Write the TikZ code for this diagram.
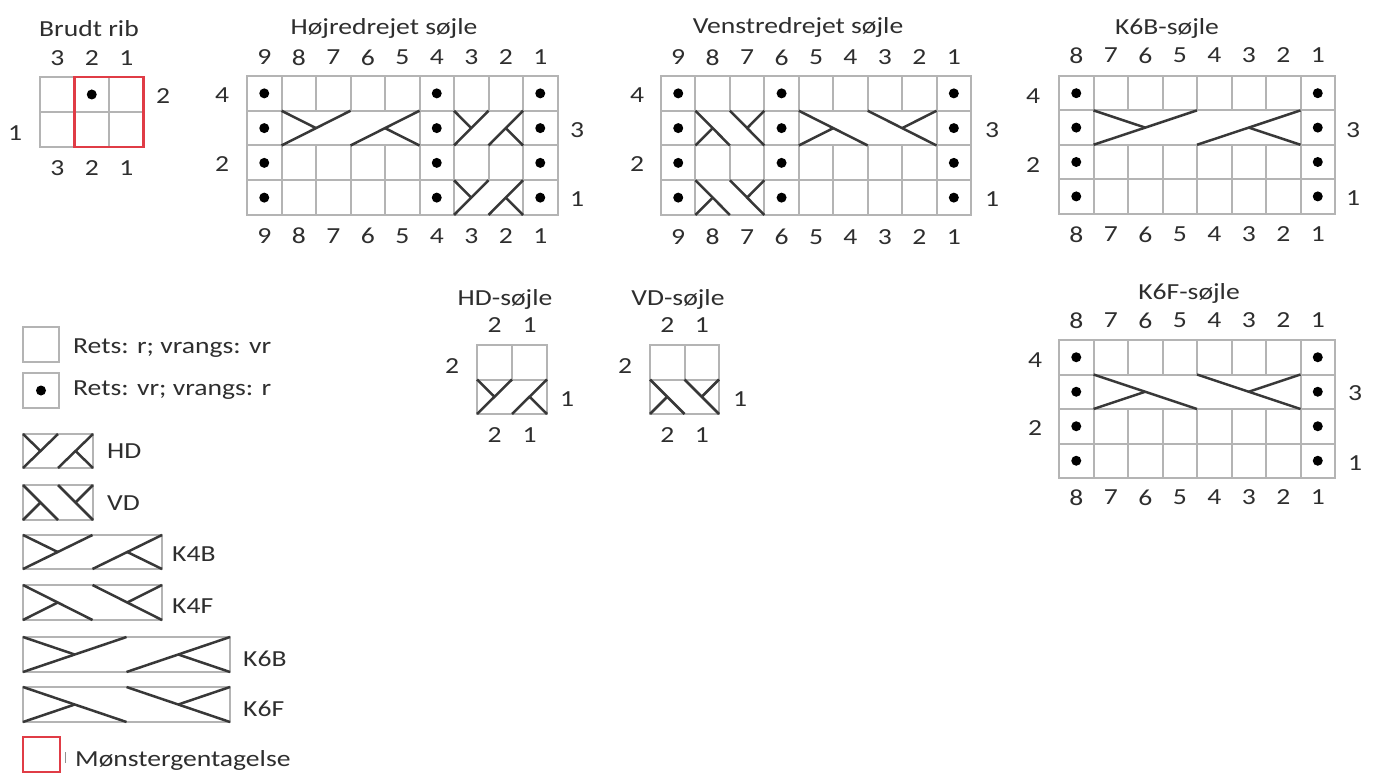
\documentclass[tikz,border=0pt]{standalone}
\usepackage{fontspec}
\setmainfont{Carlito}[FakeStretch=1.2]
\definecolor{gridc}{HTML}{B4B4B4}
\definecolor{cabc}{HTML}{383838}
\definecolor{txt}{HTML}{2E2E2E}
\definecolor{redc}{HTML}{E03C46}
\tikzset{
  gridline/.style={draw=gridc, line width=2pt},
  cable/.style={draw=cabc, line width=2.5pt},
  lab/.style={inner sep=0pt, text=txt, font=\fontsize{23}{27}\selectfont},
  ttl/.style={lab, anchor=base},
  leg/.style={lab, anchor=base west},
  dotc/.style={fill=black},
}
% grid of cells: x0 y0 cols rows cw ch
\newcommand{\kgrid}[6]{%
  \foreach \i in {1,...,#3}{\foreach \j in {1,...,#4}{%
    \draw[gridline] ({#1+(\i-1)*#5},{#2+(\j-1)*#6}) rectangle ++(#5,#6);}}}
% column numbers: prefix x0 ytop ybot cols cw
\newcommand{\knums}[6]{%
  \foreach \i in {1,...,#5}{%
    \pgfmathtruncatemacro{\nn}{#5-\i+1}%
    \node[lab] (#1t\i) at ({#2+(\i-0.5)*#6},#3) {\nn};
    \node[lab] (#1b\i) at ({#2+(\i-0.5)*#6},#4) {\nn};}}
% dots in a column: x0 y0 colindex rows cw ch
\newcommand{\kdotcol}[6]{%
  \foreach \j in {1,...,#4}{%
    \fill[dotc] ({#1+(#3+0.5)*#5},{#2+(\j-0.5)*#6}) circle (5pt);}}
% cables: x y w h (top-left, y downwards)
\newcommand{\cabB}[4]{%
  \fill[white] ({#1+1.1},{#2+1.1}) rectangle ({#1+#3-1.1},{#2+#4-1.1});
  \draw[cable] (#1,{#2+#4}) -- ({#1+#3/2},#2);
  \draw[cable] (#1,#2) -- ({#1+#3/4},{#2+#4/2});
  \draw[cable] ({#1+#3/2},{#2+#4}) -- ({#1+#3},#2);
  \draw[cable] ({#1+#3},{#2+#4}) -- ({#1+3*#3/4},{#2+#4/2});}
\newcommand{\cabF}[4]{%
  \fill[white] ({#1+1.1},{#2+1.1}) rectangle ({#1+#3-1.1},{#2+#4-1.1});
  \draw[cable] (#1,#2) -- ({#1+#3/2},{#2+#4});
  \draw[cable] (#1,{#2+#4}) -- ({#1+#3/4},{#2+#4/2});
  \draw[cable] ({#1+#3/2},#2) -- ({#1+#3},{#2+#4});
  \draw[cable] ({#1+#3},#2) -- ({#1+3*#3/4},{#2+#4/2});}
\begin{document}
\begin{tikzpicture}[x=1pt,y=-1pt]
\useasboundingbox[fill=white] (0,0) rectangle (1375,775);

% ---------- Brudt rib ----------
\node[ttl] (brtitle) at (89,37) {Brudt rib};
\kgrid{40}{77}{3}{2}{34.5}{35}
\fill[dotc] (91.75,94.5) circle (5pt);
\draw[draw=redc, line width=2.5pt] (74.5,77) rectangle (143.5,147);
\knums{br}{40}{58}{168}{3}{34.5}
\node[lab] (brr2) at (163,96) {2};
\node[lab] (brl1) at (15,133) {1};

% ---------- Hoejredrejet soejle ----------
\node[ttl] (hotitle) at (384,35) {Højredrejet søjle};
\kgrid{247}{76}{9}{4}{34.5}{34.75}
\kdotcol{247}{76}{0}{4}{34.5}{34.75}
\kdotcol{247}{76}{5}{4}{34.5}{34.75}
\kdotcol{247}{76}{8}{4}{34.5}{34.75}
\cabB{281.5}{110.75}{138}{34.75}
\cabB{454}{110.75}{69}{34.75}
\cabB{454}{180.25}{69}{34.75}
\knums{ho}{247}{57.5}{236}{9}{34.5}
\node[lab] (hol4) at (222,95) {4};
\node[lab] (hol2) at (222,164) {2};
\node[lab] (hor3) at (577,130) {3};
\node[lab] (hor1) at (577,199) {1};

% ---------- Venstredrejet soejle ----------
\node[ttl] (vetitle) at (798,34) {Venstredrejet søjle};
\kgrid{661}{76}{9}{4}{34.45}{34.75}
\kdotcol{661}{76}{0}{4}{34.45}{34.75}
\kdotcol{661}{76}{3}{4}{34.45}{34.75}
\kdotcol{661}{76}{8}{4}{34.45}{34.75}
\cabF{695.45}{110.75}{68.9}{34.75}
\cabF{798.8}{110.75}{137.8}{34.75}
\cabF{695.45}{180.25}{68.9}{34.75}
\knums{ve}{661}{57.5}{237}{9}{34.45}
\node[lab] (vel4) at (637,95) {4};
\node[lab] (vel2) at (637,164) {2};
\node[lab] (ver3) at (992,130) {3};
\node[lab] (ver1) at (992,199) {1};

% ---------- K6B-soejle ----------
\node[ttl] (kbtitle) at (1167,35) {K6B-søjle};
\kgrid{1059}{76}{8}{4}{34.5}{34.4}
\kdotcol{1059}{76}{0}{4}{34.5}{34.4}
\kdotcol{1059}{76}{7}{4}{34.5}{34.4}
\cabB{1093.5}{110.4}{207}{34.4}
\knums{kb}{1059}{55.5}{234.5}{8}{34.5}
\node[lab] (kbl4) at (1033,96) {4};
\node[lab] (kbl2) at (1033,165) {2};
\node[lab] (kbr3) at (1353,130) {3};
\node[lab] (kbr1) at (1353,198) {1};

% ---------- K6F-soejle ----------
\node[ttl] (kftitle) at (1189,300) {K6F-søjle};
\kgrid{1059}{340}{8}{4}{34.5}{34.5}
\kdotcol{1059}{340}{0}{4}{34.5}{34.5}
\kdotcol{1059}{340}{7}{4}{34.5}{34.5}
\cabF{1093.5}{374.5}{207}{34.5}
\knums{kf}{1059}{320.5}{497.5}{8}{34.5}
\node[lab] (kfl4) at (1035,360) {4};
\node[lab] (kfl2) at (1035,428) {2};
\node[lab] (kfr3) at (1355,393) {3};
\node[lab] (kfr1) at (1355,463) {1};

% ---------- HD-soejle ----------
\node[ttl] (hdtitle) at (505,306) {HD-søjle};
\kgrid{477}{345}{2}{2}{35}{34.5}
\cabB{477}{379.5}{70}{34.5}
\knums{hd}{477}{325.5}{435.5}{2}{35}
\node[lab] (hdl2) at (452,366) {2};
\node[lab] (hdr1) at (567,399) {1};

% ---------- VD-soejle ----------
\node[ttl] (vdtitle) at (678,306) {VD-søjle};
\kgrid{650}{345}{2}{2}{34.5}{34.5}
\cabF{650}{379.5}{69}{34.5}
\knums{vd}{650}{325.5}{435.5}{2}{34.5}
\node[lab] (vdl2) at (625,366) {2};
\node[lab] (vdr1) at (740,399) {1};

% ---------- Legend ----------
\draw[gridline] (23,327) rectangle (59,362);
\node[leg] (lg1) at (73,353.5) {Rets: r; vrangs: vr};
\draw[gridline] (23,373) rectangle (59,408);
\fill[dotc] (41,390.5) circle (5pt);
\node[leg] (lg2) at (73,395) {Rets: vr; vrangs: r};
\draw[gridline] (23,434) rectangle (93,468);
\cabB{23}{434}{70}{34}
\node[leg] (lg3) at (107,458.5) {HD};
\draw[gridline] (23,485) rectangle (93,520);
\cabF{23}{485}{70}{35}
\node[leg] (lg4) at (107,510) {VD};
\draw[gridline] (23,535) rectangle (162,569);
\cabB{23}{535}{139}{34}
\node[leg] (lg5) at (172,561.5) {K4B};
\draw[gridline] (23,585) rectangle (162,620);
\cabF{23}{585}{139}{35}
\node[leg] (lg6) at (172,613) {K4F};
\draw[gridline] (23,637) rectangle (230,672);
\cabB{23}{637}{207}{35}
\node[leg] (lg7) at (243,666.5) {K6B};
\draw[gridline] (23,687) rectangle (230,722);
\cabF{23}{687}{207}{35}
\node[leg] (lg8) at (243,716.5) {K6F};
\draw[draw=redc, line width=2.5pt] (23,737) rectangle (60,772);
\draw[draw=gridc!80!black, line width=1.2pt] (65.5,752) -- (65.5,763);
\node[leg] (lg9) at (75,766.5) {Mønstergentagelse};
\end{tikzpicture}
\end{document}
